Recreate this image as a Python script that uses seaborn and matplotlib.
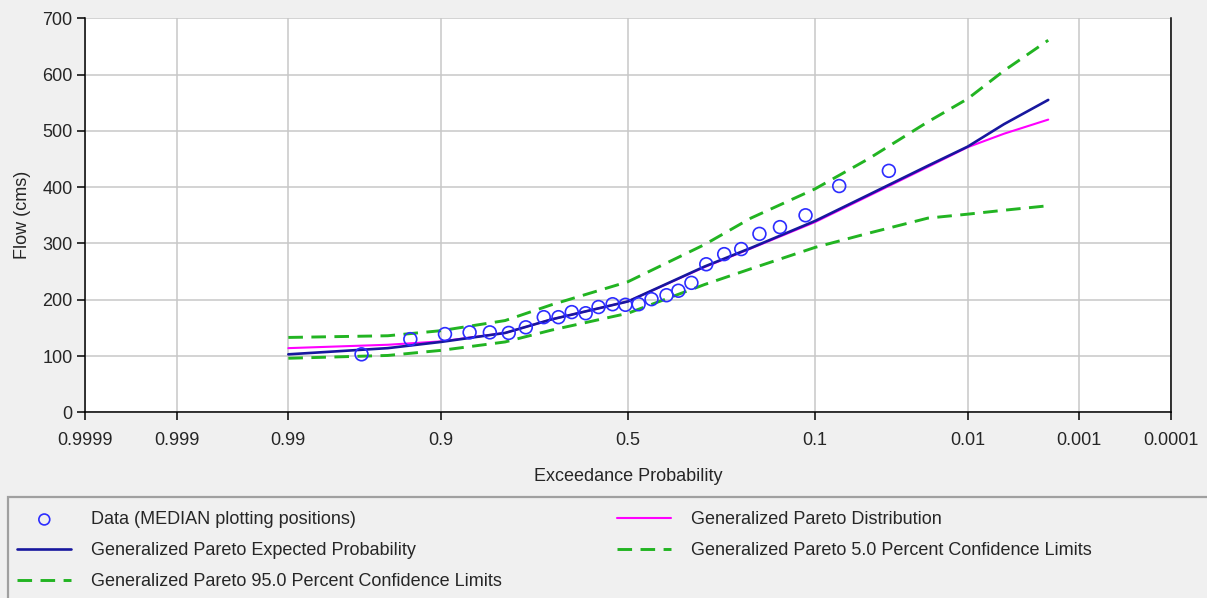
import numpy as np
import pandas as pd
import matplotlib
matplotlib.use("Agg")
import matplotlib.pyplot as plt
from matplotlib.patches import Rectangle
import seaborn as sns
from statistics import NormalDist

# data points (median plotting positions)
data_prob = [0.966, 0.932, 0.895, 0.861, 0.828, 0.793, 0.758, 0.718, 0.683, 0.650,
             0.614, 0.580, 0.542, 0.507, 0.471, 0.436, 0.396, 0.365, 0.332, 0.296,
             0.255, 0.219, 0.184, 0.149, 0.112, 0.074, 0.037]
data_flow = [103, 130, 139, 142, 142, 141, 151, 169, 169, 178,
             176, 187, 192, 191, 192, 201, 208, 216, 230, 263,
             281, 290, 317, 329, 350, 402, 429]

# frequency curve ordinates
curve_prob = [0.99, 0.95, 0.9, 0.8, 0.7, 0.5, 0.3, 0.2, 0.1, 0.05, 0.02, 0.01, 0.005, 0.002]
expected_flow = [103, 114, 125, 141, 165, 197, 259, 292, 340, 386, 438, 472, 512, 555]
dist_flow = [114, 120, 126, 141, 165, 197, 258, 291, 338, 384, 436, 471, 495, 520]
upper_flow = [133, 136, 145, 163, 191, 232, 298, 345, 397, 450, 516, 557, 607, 661]
lower_flow = [96, 101, 110, 125, 146, 176, 227, 255, 293, 318, 345, 352, 359, 367]

tick_prob = [0.9999, 0.999, 0.99, 0.9, 0.5, 0.1, 0.01, 0.001, 0.0001]
tick_labels = ["0.9999", "0.999", "0.99", "0.9", "0.5", "0.1", "0.01", "0.001", "0.0001"]

_nd = NormalDist()
_inv = np.vectorize(_nd.inv_cdf, otypes=[float])
_cdf = np.vectorize(_nd.cdf, otypes=[float])


def to_z(p):
    p = np.clip(np.asarray(p, dtype=float), 1e-12, 1 - 1e-12)
    return _inv(p)


def from_z(z):
    return _cdf(np.asarray(z, dtype=float))


pts = pd.DataFrame({"prob": data_prob, "flow": data_flow})
curves = pd.DataFrame({"prob": curve_prob, "expected": expected_flow, "dist": dist_flow,
                       "upper": upper_flow, "lower": lower_flow})

sns.set_style("white")
plt.rcParams["font.family"] = ["Liberation Sans", "DejaVu Sans"]
plt.rcParams["font.size"] = 13

fig = plt.figure(figsize=(12.07, 5.98), dpi=100, facecolor="#f0f0f0")
ax = fig.add_axes([85 / 1207, 1 - 412.3 / 598, (1171 - 85) / 1207, (412.3 - 18.3) / 598])
ax.set_facecolor("white")

green = "#22b422"
sns.lineplot(data=curves, x="prob", y="dist", ax=ax, color="#ff00ff", lw=1.5,
             label="Generalized Pareto Distribution", sort=False)
sns.lineplot(data=curves, x="prob", y="upper", ax=ax, color=green, lw=2.1,
             label="Generalized Pareto 5.0 Percent Confidence Limits", sort=False)
sns.lineplot(data=curves, x="prob", y="lower", ax=ax, color=green, lw=2.1,
             label="Generalized Pareto 95.0 Percent Confidence Limits", sort=False)
sns.lineplot(data=curves, x="prob", y="expected", ax=ax, color="#17179e", lw=1.9,
             label="Generalized Pareto Expected Probability", sort=False)
sns.scatterplot(data=pts, x="prob", y="flow", ax=ax, marker="o", s=85,
                facecolors="none", edgecolor="#2d2dff", linewidth=1.2,
                label="Data (MEDIAN plotting positions)", zorder=5)

for ln in ax.get_lines():
    if ln.get_color() == green:
        ln.set_dashes((5.0, 2.9))

ax.set_xscale("function", functions=(to_z, from_z))
ax.set_xlim(0.9999, 0.0001)
ax.set_ylim(0, 700)
ax.set_xticks(tick_prob)
ax.set_xticklabels(tick_labels)
ax.set_yticks(range(0, 701, 100))
ax.xaxis.set_minor_locator(matplotlib.ticker.NullLocator())

ax.grid(True, color="#c8c8c8", lw=1.1)
ax.set_axisbelow(True)
for side in ["left", "bottom", "right"]:
    ax.spines[side].set_color("black")
    ax.spines[side].set_linewidth(1.1)
ax.spines["top"].set_visible(False)
ax.tick_params(axis="both", direction="out", length=6, width=1.1, color="black",
               labelsize=13, bottom=True, left=True)
ax.tick_params(axis="x", pad=8)
ax.tick_params(axis="y", pad=3)

ax.set_xlabel("Exceedance Probability", fontsize=13, labelpad=14)
ax.set_ylabel("Flow (cms)", fontsize=13, labelpad=8)

handles, labels = ax.get_legend_handles_labels()
ax.get_legend().remove()
lookup = dict(zip(labels, handles))
order = ["Data (MEDIAN plotting positions)",
         "Generalized Pareto Expected Probability",
         "Generalized Pareto 95.0 Percent Confidence Limits",
         "Generalized Pareto Distribution",
         "Generalized Pareto 5.0 Percent Confidence Limits"]
fig.legend([lookup[k] for k in order], order, loc="upper left",
           bbox_to_anchor=(10 / 1207, 1 - 504 / 598), ncol=2, frameon=False,
           fontsize=13, handlelength=3.0, handletextpad=1.1, columnspacing=6.35,
           labelspacing=0.78, borderaxespad=0, markerscale=0.85)

fig.add_artist(Rectangle((8 / 1207, -0.01), 1.0, (1 - 497 / 598) + 0.01,
                         transform=fig.transFigure, fill=False,
                         edgecolor="#a0a0a0", lw=1.6))

fig.savefig("out.png", dpi=100, facecolor=fig.get_facecolor())
